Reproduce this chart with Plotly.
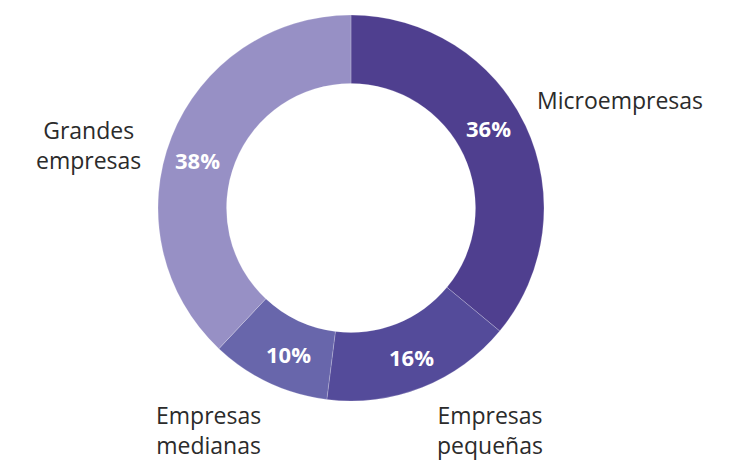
import plotly.graph_objects as go

# Company size distribution
categories = ["Microempresas", "Empresas pequeñas", "Empresas medianas", "Grandes empresas"]
shares = [36, 16, 10, 38]
pct_labels = ["36%", "16%", "10%", "38%"]
colors = ["#4f3f8f", "#544b9a", "#6866ab", "#9790c5"]

W, H = 741, 462
cx, cy, R = 351, 208, 193

fig = go.Figure(
    go.Pie(
        labels=categories,
        values=shares,
        textinfo="none",
        marker=dict(colors=colors, line=dict(color="rgba(255,255,255,0.35)", width=0.6)),
        hole=0.645,
        sort=False,
        direction="clockwise",
        rotation=0,
        showlegend=False,
        hoverinfo="label+percent",
        domain=dict(x=[(cx - R) / W, (cx + R) / W], y=[(H - cy - R) / H, (H - cy + R) / H]),
    )
)

# Percentage labels on the ring
pct_pos = [(488, 128), (411, 357), (288, 354), (197, 160)]
for t, (x, y) in zip(pct_labels, pct_pos):
    fig.add_annotation(
        x=x / W, y=1 - y / H, xref="paper", yref="paper",
        text=f"<b>{t}</b>", showarrow=False,
        xanchor="center", yanchor="middle",
        font=dict(family="Open Sans", size=22, color="white"),
    )

# Outside category names
name_text = ["Microempresas", "Empresas<br>pequeñas", "Empresas<br>medianas", "Grandes<br>empresas"]
name_pos = [(620, 100), (490, 430), (208, 430), (88, 145)]
for t, (x, y) in zip(name_text, name_pos):
    fig.add_annotation(
        x=x / W, y=1 - y / H, xref="paper", yref="paper",
        text=t, showarrow=False, align="center",
        xanchor="center", yanchor="middle",
        font=dict(family="Open Sans", size=23, color="#2b2b2b"),
    )

fig.update_layout(
    width=W, height=H,
    margin=dict(l=0, r=0, t=0, b=0),
    paper_bgcolor="white", plot_bgcolor="white",
)

fig.write_html("out.html")
